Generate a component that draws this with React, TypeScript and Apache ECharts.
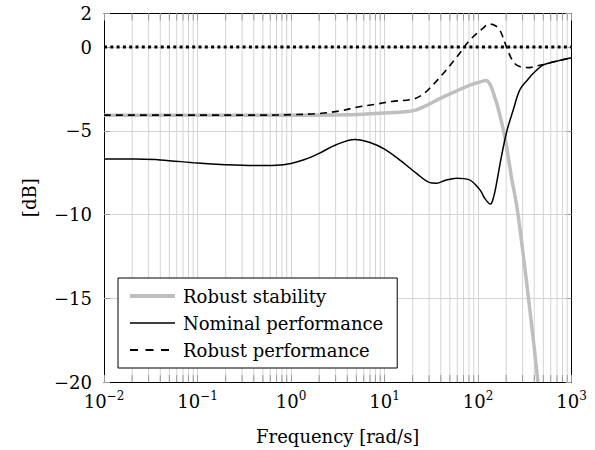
import React, { useEffect, useRef } from "react";
import * as echarts from "echarts";

const FONT = '"DejaVu Serif", serif';
const X_MIN = 0.01;
const X_MAX = 1000;
const Y_MIN = -20;
const Y_MAX = 2;

const legendNames = ["Robust stability", "Nominal performance", "Robust performance"];
const legendWidths = [4, 1.6, 1.8];
const legendTypes: any[] = ["solid", "solid", [8, 7.5]];

const robustStabilityFreq = [0.01, 0.1, 1, 4, 9, 18, 22, 28, 40, 60, 85, 110, 122, 135, 150, 165, 185, 200, 230, 260, 300, 350, 400, 437];
const robustStabilityDb = [-4.07, -4.07, -4.07, -4.05, -3.95, -3.85, -3.75, -3.5, -3.05, -2.6, -2.25, -2.05, -2.0, -2.25, -2.95, -3.7, -4.85, -5.8, -7.9, -9.5, -12.1, -15.2, -18.0, -20];

const nominalFreq = [0.01, 0.02, 0.04, 0.1, 0.2, 0.4, 0.7, 1, 1.4, 2, 3, 4.8, 7, 10, 15, 22, 30, 36, 45, 59, 80, 105, 118, 136, 147, 158, 178, 204, 238, 280, 340, 390, 500, 650, 1000];
const nominalDb = [-6.68, -6.69, -6.74, -6.93, -7.03, -7.08, -7.06, -6.95, -6.72, -6.35, -5.85, -5.52, -5.7, -6.1, -6.8, -7.55, -8.08, -8.13, -7.95, -7.83, -7.92, -8.53, -9.03, -9.38, -8.95, -8.13, -6.54, -5.0, -3.76, -2.56, -1.95, -1.57, -1.07, -0.88, -0.64];

const robustPerfFreq = [0.01, 0.5, 1, 2, 3.5, 5, 8, 12, 20, 25, 30, 40, 58, 82, 113, 131, 150, 171, 201, 238, 280, 356, 430, 500, 650, 1000];
const robustPerfDb = [-4.07, -4.07, -4.04, -3.97, -3.8, -3.6, -3.42, -3.25, -3.12, -2.88, -2.5, -1.75, -0.67, 0.42, 1.12, 1.37, 1.3, 1.02, 0.02, -0.88, -1.17, -1.23, -1.12, -1.05, -0.88, -0.64];

const zeroFreq = [0.01, 1000];
const zeroDb = [0, 0];

const minorTicks = [
  0.02, 0.03, 0.04, 0.05, 0.06, 0.07, 0.08, 0.09,
  0.2, 0.3, 0.4, 0.5, 0.6, 0.7, 0.8, 0.9,
  2, 3, 4, 5, 6, 7, 8, 9,
  20, 30, 40, 50, 60, 70, 80, 90,
  200, 300, 400, 500, 600, 700, 800, 900,
];

const zip = (xs: number[], ys: number[]) => xs.map((x, i) => [x, ys[i]]);

const GRID_COLOR = "#d4d4d4";
const TICK_COLOR = "#9a9a9a";

export default function App() {
  const ref = useRef<HTMLDivElement>(null);

  useEffect(() => {
    document.body.style.margin = "0";
    if (!ref.current) return;
    const chart = echarts.init(ref.current, undefined, { renderer: "svg" });

    const supLabel = (v: number) => {
      const e = Math.round(Math.log10(v));
      const s = e < 0 ? "\u2212" + Math.abs(e) : String(e);
      return "{b|10}{s|" + s + "}";
    };

    const option: any = {
      animation: false,
      backgroundColor: "#fff",
      grid: { left: 104, top: 13.5, width: 467.5, height: 369 },
      legend: {
        data: legendNames.map((n, i) => ({ name: n, lineStyle: { width: legendWidths[i], type: legendTypes[i] } })),
        orient: "vertical",
        left: 118,
        top: 278,
        backgroundColor: "#fff",
        borderColor: "#000",
        borderWidth: 1,
        borderRadius: 0,
        padding: [8, 14, 8, 10],
        itemWidth: 45,
        itemHeight: 14,
        itemGap: 7,
        itemStyle: { opacity: 0 },
        textStyle: { fontFamily: FONT, fontSize: 18, color: "#000", lineHeight: 20, padding: [0, 0, 0, 3] },
      },
      xAxis: [
        {
          type: "log",
          logBase: 10,
          min: X_MIN,
          max: X_MAX,
          name: "Frequency [rad/s]",
          nameLocation: "middle",
          nameGap: 45,
          nameTextStyle: { fontFamily: FONT, fontSize: 18, color: "#000" },
          axisLine: { show: true, onZero: false, lineStyle: { color: "#000", width: 1 } },
          axisTick: { show: true, inside: true, length: 7, lineStyle: { color: TICK_COLOR } },
          axisLabel: {
            margin: 8,
            formatter: supLabel,
            rich: {
              b: { fontFamily: FONT, fontSize: 18, color: "#000", lineHeight: 22 },
              s: { fontFamily: FONT, fontSize: 12, color: "#000", verticalAlign: "top", lineHeight: 12 },
            },
          },
          splitLine: { show: true, showMinLine: false, showMaxLine: false, lineStyle: { color: GRID_COLOR, width: 1 } },
        },
        {
          type: "log",
          logBase: 10,
          min: X_MIN,
          max: X_MAX,
          position: "top",
          axisLine: { show: true, onZero: false, lineStyle: { color: "#000", width: 1 } },
          axisTick: { show: true, inside: true, length: 7, lineStyle: { color: TICK_COLOR } },
          axisLabel: { show: false },
          splitLine: { show: false },
        },
      ],
      yAxis: [
        {
          type: "value",
          min: Y_MIN,
          max: Y_MAX,
          interval: 5,
          name: "[dB]",
          nameLocation: "middle",
          nameGap: 66,
          nameRotate: 90,
          nameTextStyle: { fontFamily: FONT, fontSize: 18, color: "#000" },
          axisLine: { show: true, onZero: false, lineStyle: { color: "#000", width: 1 } },
          axisTick: { show: true, inside: true, length: 6, lineStyle: { color: TICK_COLOR } },
          axisLabel: {
            margin: 12,
            fontFamily: FONT,
            fontSize: 18,
            color: "#000",
            formatter: (v: number) => (v < 0 ? "\u2212" + Math.abs(v) : String(v)),
          },
          splitLine: { show: true, showMinLine: false, showMaxLine: false, lineStyle: { color: GRID_COLOR, width: 1 } },
        },
        {
          type: "value",
          min: Y_MIN,
          max: Y_MAX,
          interval: 5,
          position: "right",
          axisLine: { show: true, onZero: false, lineStyle: { color: "#000", width: 1 } },
          axisTick: { show: true, inside: true, length: 6, lineStyle: { color: TICK_COLOR } },
          axisLabel: { show: false },
          splitLine: { show: false },
        },
      ],
      series: [
        {
          name: "minor-grid",
          type: "custom",
          xAxisIndex: 0,
          yAxisIndex: 0,
          z: 1,
          silent: true,
          encode: { x: 0, y: 1 },
          data: minorTicks.map((v) => [v, 0]),
          renderItem: (params: any, api: any) => {
            const x = api.value(0);
            const b = api.coord([x, Y_MIN]);
            const t = api.coord([x, Y_MAX]);
            return {
              type: "group",
              children: [
                { type: "line", shape: { x1: b[0], y1: b[1], x2: t[0], y2: t[1] }, style: { stroke: GRID_COLOR, lineWidth: 1 } },
                { type: "line", shape: { x1: b[0], y1: b[1], x2: b[0], y2: b[1] - 7 }, style: { stroke: TICK_COLOR, lineWidth: 1 } },
                { type: "line", shape: { x1: t[0], y1: t[1], x2: t[0], y2: t[1] + 7 }, style: { stroke: TICK_COLOR, lineWidth: 1 } },
              ],
            };
          },
        },
        {
          name: "Robust stability",
          type: "line",
          z: 3,
          symbol: "none",
          smooth: 0.35,
          data: zip(robustStabilityFreq, robustStabilityDb),
          itemStyle: { color: "#bfbfbf" },
          lineStyle: { color: "#bfbfbf", width: 3.5 },
        },
        {
          name: "Nominal performance",
          type: "line",
          z: 4,
          symbol: "none",
          smooth: 0.35,
          data: zip(nominalFreq, nominalDb),
          itemStyle: { color: "#000" },
          lineStyle: { color: "#000", width: 1.5 },
        },
        {
          name: "Robust performance",
          type: "line",
          z: 5,
          symbol: "none",
          smooth: 0.35,
          data: zip(robustPerfFreq, robustPerfDb),
          itemStyle: { color: "#000" },
          lineStyle: { color: "#000", width: 1.6, type: [7, 5] },
        },
        {
          name: "zero",
          type: "line",
          z: 5,
          symbol: "none",
          data: zip(zeroFreq, zeroDb),
          itemStyle: { color: "#000" },
          lineStyle: { color: "#000", width: 3, type: [3, 3.3], cap: "butt" },
        },
      ],
    };

    chart.setOption(option);
    return () => chart.dispose();
  }, []);

  return <div ref={ref} style={{ width: 595, height: 450 }} />;
}
